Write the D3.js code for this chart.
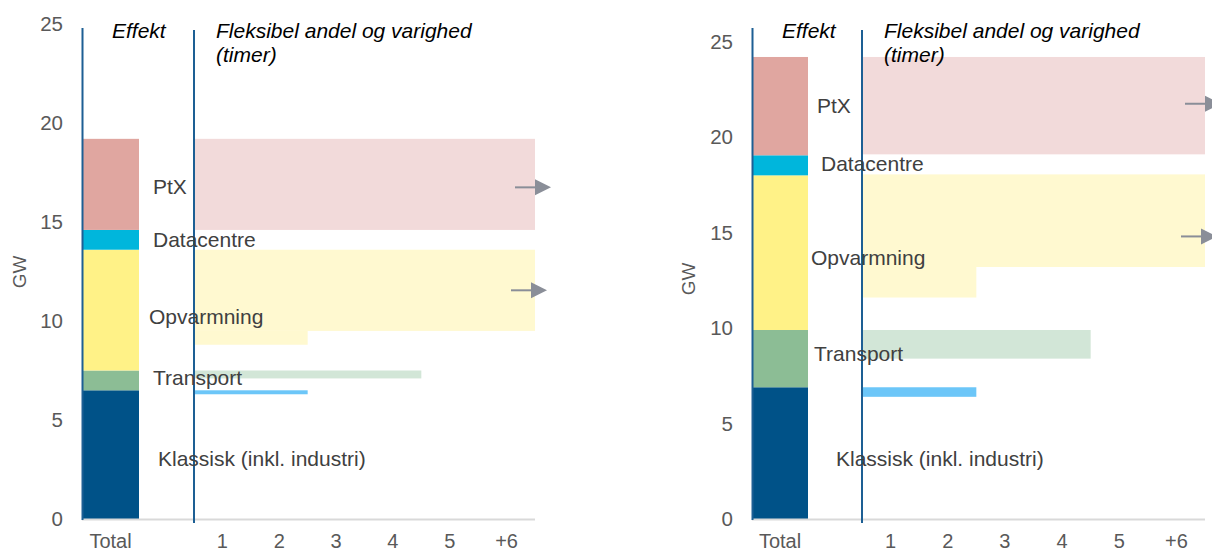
<!DOCTYPE html>
<html>
<head>
<meta charset="utf-8">
<script src="https://cdn.jsdelivr.net/npm/d3@7/dist/d3.min.js"></script>
<style>
  html, body { margin: 0; padding: 0; background: #fff; }
  svg { display: block; font-family: "Liberation Sans", Arial, sans-serif; }
</style>
</head>
<body>
<svg id="chart" width="1212" height="553"></svg>
<script>
// Segments of the stacked "Total" bar, bottom to top
const categories = ["Klassisk (inkl. industri)", "Transport", "Opvarmning", "Datacentre", "PtX"];
const effectA = [6.5, 1.0, 6.1, 1.0, 4.6];
const effectB = [6.9, 3.0, 8.1, 1.05, 5.15];

// Flexibility duration categories (hours)
const hourLabels = ["1", "2", "3", "4", "5", "+6"];
const yTicks = [0, 5, 10, 15, 20, 25];

// Flexible share per category: [category, lower GW, upper GW, hours reached]
const flexA = [
  ["PtX", 14.6, 19.2, "+6"],
  ["Opvarmning", 9.5, 13.6, "+6"],
  ["Opvarmning", 8.8, 9.5, "2"],
  ["Transport", 7.1, 7.5, "4"],
  ["Klassisk (inkl. industri)", 6.3, 6.5, "2"]
];
const flexB = [
  ["PtX", 19.1, 24.2, "+6"],
  ["Opvarmning", 13.2, 18.05, "+6"],
  ["Opvarmning", 11.6, 13.2, "2"],
  ["Transport", 8.4, 9.9, "4"],
  ["Klassisk (inkl. industri)", 6.4, 6.9, "2"]
];
// Open-ended durations (arrows), GW level of each arrow
const arrowsA = [16.75, 11.55];
const arrowsB = [21.75, 14.8];

const colors = {
  "Klassisk (inkl. industri)": "#005288",
  "Transport": "#8cbd95",
  "Opvarmning": "#fff287",
  "Datacentre": "#00b6dc",
  "PtX": "#e0a6a0"
};
const flexColors = {
  "Klassisk (inkl. industri)": "#6cc6f8",
  "Transport": "#d2e6d7",
  "Opvarmning": "#fff9d0",
  "PtX": "#f2dada"
};

const svg = d3.select("#chart");

function drawPanel(cfg) {
  const g = svg.append("g");
  const y = d3.scaleLinear().domain([0, 25]).range([cfg.y0, cfg.y25]);
  const xTot = d3.scaleBand().domain(["Total"]).range(cfg.barX);
  const xHr = d3.scaleBand().domain(hourLabels).range(cfg.flexX);

  // Stacked bar
  let cum = 0;
  const stacked = cfg.effect.map((v, i) => {
    const s = { cat: categories[i], lo: cum, hi: cum + v };
    cum += v;
    return s;
  });
  g.selectAll("rect.seg").data(stacked).join("rect")
    .attr("class", "seg")
    .attr("x", xTot("Total"))
    .attr("width", xTot.bandwidth())
    .attr("y", d => y(d.hi))
    .attr("height", d => y(d.lo) - y(d.hi))
    .attr("fill", d => colors[d.cat]);

  // Flexibility bands
  g.selectAll("rect.flex").data(cfg.flex).join("rect")
    .attr("class", "flex")
    .attr("x", cfg.flexX[0])
    .attr("width", d => xHr(d[3]) + xHr.bandwidth() - cfg.flexX[0])
    .attr("y", d => y(d[2]))
    .attr("height", d => y(d[1]) - y(d[2]))
    .attr("fill", d => flexColors[d[0]]);

  // Baseline
  g.append("line")
    .attr("x1", cfg.barX[0]).attr("x2", cfg.flexX[1])
    .attr("y1", y(0) + 0.5).attr("y2", y(0) + 0.5)
    .attr("stroke", "#d9d9d9").attr("stroke-width", 2);

  // Section dividers
  g.append("line")
    .attr("x1", cfg.barX[0] + 0.5).attr("x2", cfg.barX[0] + 0.5)
    .attr("y1", 28).attr("y2", y(0) + 1)
    .attr("stroke", "#1d5f94").attr("stroke-width", 2);
  g.append("line")
    .attr("x1", cfg.flexX[0]).attr("x2", cfg.flexX[0])
    .attr("y1", 30).attr("y2", y(0) + 4)
    .attr("stroke", "#1d5f94").attr("stroke-width", 2);

  // Arrows for open-ended durations
  const arrowEnd = cfg.flexX[1];
  cfg.arrows.forEach((a, i) => {
    const ay = y(a);
    const xe = arrowEnd - (i === 0 ? 0 : 4);
    g.append("line")
      .attr("x1", xe - 20).attr("x2", xe + 2)
      .attr("y1", ay).attr("y2", ay)
      .attr("stroke", "#8a8e98").attr("stroke-width", 2);
    g.append("path")
      .attr("d", `M${xe},${ay - 8} L${xe + 16},${ay} L${xe},${ay + 8} Z`)
      .attr("fill", "#8a8e98");
  });

  // Y axis tick labels
  g.selectAll("text.tick").data(yTicks).join("text")
    .attr("class", "tick")
    .attr("x", cfg.tickX)
    .attr("y", d => y(d))
    .attr("dy", "0.35em")
    .attr("text-anchor", "end")
    .attr("font-size", 20.5)
    .attr("fill", "#595959")
    .text(d => d);

  // Y axis title
  g.append("text")
    .attr("transform", `translate(${cfg.gw[0]},${cfg.gw[1]}) rotate(-90)`)
    .attr("text-anchor", "middle")
    .attr("dy", "0.35em")
    .attr("font-size", 19)
    .attr("fill", "#595959")
    .text("GW");

  // X labels
  const xLabY = 540.5;
  g.append("text")
    .attr("x", xTot("Total") + xTot.bandwidth() / 2)
    .attr("y", xLabY).attr("dy", "0.35em")
    .attr("text-anchor", "middle")
    .attr("font-size", 20).attr("fill", "#595959")
    .text("Total");
  g.selectAll("text.hr").data(hourLabels).join("text")
    .attr("class", "hr")
    .attr("x", d => xHr(d) + xHr.bandwidth() / 2)
    .attr("y", xLabY).attr("dy", "0.35em")
    .attr("text-anchor", "middle")
    .attr("font-size", 20).attr("fill", "#595959")
    .text(d => d);

  // Headers
  g.append("text")
    .attr("x", cfg.head1X).attr("y", 31).attr("dy", "0.35em")
    .attr("font-size", 21).attr("font-style", "italic").attr("fill", "#000")
    .text("Effekt");
  const h2 = g.append("text")
    .attr("x", cfg.flexX[0] + 22).attr("y", 31).attr("dy", "0.35em")
    .attr("font-size", 21).attr("font-style", "italic").attr("fill", "#000");
  h2.append("tspan").text("Fleksibel andel og varighed");
  h2.append("tspan").attr("x", cfg.flexX[0] + 22).attr("dy", 24).text("(timer)");

  // Category labels
  stacked.forEach((s, i) => {
    g.append("text")
      .attr("x", cfg.barX[1] + cfg.labelDx[i])
      .attr("y", (y(s.lo) + y(s.hi)) / 2 + cfg.labelDy[i])
      .attr("dy", "0.35em")
      .attr("font-size", 21)
      .attr("fill", "#404040")
      .text(s.cat);
  });
}

drawPanel({
  effect: effectA, flex: flexA, arrows: arrowsA,
  y0: 519, y25: 24,
  barX: [82, 139], flexX: [194, 535],
  tickX: 63, gw: [19, 272], head1X: 112,
  labelDx: [19, 14, 10, 14, 14],
  labelDy: [4, -3, 7, 0, 2]
});
drawPanel({
  effect: effectB, flex: flexB, arrows: arrowsB,
  y0: 519, y25: 41.7,
  barX: [752, 808], flexX: [862, 1205],
  tickX: 733, gw: [688, 279], head1X: 782,
  labelDx: [28, 6, 3, 13, 9],
  labelDy: [6, -5, 5, -2, 0]
});
</script>
</body>
</html>
